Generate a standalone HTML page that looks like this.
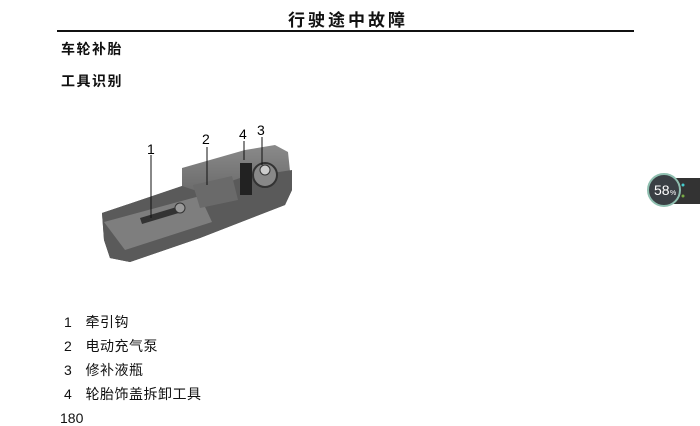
<!DOCTYPE html>
<html><head><meta charset="utf-8"><style>
body{margin:0;width:700px;height:421px;background:#fff;position:relative;overflow:hidden;font-family:"Liberation Sans","Noto Sans CJK SC",sans-serif;color:#111}
.t{position:absolute;white-space:nowrap}
</style></head><body>
<div class="t" style="left:288px;top:6px;font-size:17px;font-weight:bold;letter-spacing:3px">行驶途中故障</div>
<div style="position:absolute;left:57px;top:30px;width:577px;height:2px;background:#111"></div>
<div class="t" style="left:61px;top:39px;font-size:14px;font-weight:bold;letter-spacing:1.5px">车轮补胎</div>
<div class="t" style="left:61px;top:71px;font-size:14px;font-weight:bold;letter-spacing:1.5px">工具识别</div>
<svg style="position:absolute;left:0;top:0" width="700" height="421">
<defs><linearGradient id="g" x1="0" y1="0" x2="0" y2="1"><stop offset="0" stop-color="#8a8a8a"/><stop offset="1" stop-color="#3c3c3c"/></linearGradient></defs>
<path d="M102,213 L182,186 L182,168 L245,150 L275,145 L288,152 L292,190 L285,205 L200,238 L130,262 L110,258 L104,240 Z" fill="url(#g)"/>
<path d="M102,213 L182,186 L200,192 L240,178 L292,170 L292,190 L285,205 L200,238 L130,262 L110,258 L104,240 Z" fill="#5a5a5a"/>
<path d="M104,222 L200,196 L212,222 L125,250 Z" fill="#7e7e7e"/>
<path d="M193,185 L232,176 L238,200 L200,208 Z" fill="#6a6a6a"/>
<path d="M140,218 L180,206 L182,212 L142,224 Z" fill="#333"/>
<circle cx="180" cy="208" r="5" fill="#999" stroke="#333"/>
<rect x="240" y="163" width="12" height="32" fill="#222"/>
<circle cx="265" cy="175" r="12" fill="#888" stroke="#333" stroke-width="2"/>
<circle cx="265" cy="170" r="5" fill="#ccc" stroke="#333"/>
<line x1="151" y1="155" x2="151" y2="218" stroke="#111"/>
<line x1="207" y1="147" x2="207" y2="185" stroke="#111"/>
<line x1="244" y1="141" x2="244" y2="160" stroke="#111"/>
<line x1="262" y1="137" x2="262" y2="165" stroke="#111"/>
<text x="147" y="154" font-size="14" font-family="Liberation Sans">1</text>
<text x="202" y="144" font-size="14" font-family="Liberation Sans">2</text>
<text x="239" y="139" font-size="14" font-family="Liberation Sans">4</text>
<text x="257" y="135" font-size="14" font-family="Liberation Sans">3</text>
<rect x="668" y="178" width="32" height="26" fill="#333"/>
<circle cx="664" cy="190" r="16" fill="#3a3f44" stroke="#8fbfb0" stroke-width="2"/>
<text x="654" y="195" font-size="14" fill="#fff" font-family="Liberation Sans">58</text>
<text x="670" y="195" font-size="7" fill="#fff" font-family="Liberation Sans">%</text>
<circle cx="683" cy="185" r="1.5" fill="#4cc"/><circle cx="683" cy="196" r="1.5" fill="#7a4"/>
</svg>
<div class="t" style="left:64px;top:312px;font-size:14px;letter-spacing:0.5px">1&nbsp;&nbsp;&nbsp;牵引钩</div>
<div class="t" style="left:64px;top:336px;font-size:14px;letter-spacing:0.5px">2&nbsp;&nbsp;&nbsp;电动充气泵</div>
<div class="t" style="left:64px;top:360px;font-size:14px;letter-spacing:0.5px">3&nbsp;&nbsp;&nbsp;修补液瓶</div>
<div class="t" style="left:64px;top:384px;font-size:14px;letter-spacing:0.5px">4&nbsp;&nbsp;&nbsp;轮胎饰盖拆卸工具</div>
<div class="t" style="left:60px;top:410px;font-size:14px">180</div>
</body></html>
